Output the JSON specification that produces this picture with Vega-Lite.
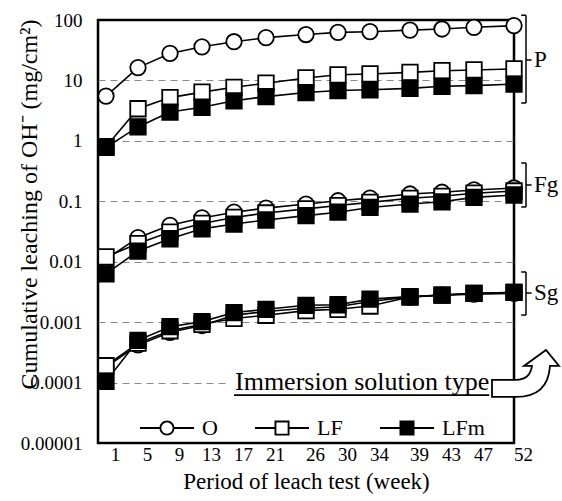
{
  "$schema": "https://vega.github.io/schema/vega-lite/v6.json",
  "width": 416,
  "height": 423,
  "autosize": "none",
  "padding": {"left": 98, "top": 20, "right": 48, "bottom": 58},
  "config": {
    "font": "Liberation Serif",
    "view": {"stroke": "black", "strokeWidth": 2.5},
    "axis": {"labelColor": "black", "titleColor": "black", "labelFont": "Liberation Serif", "titleFont": "Liberation Serif", "titleFontWeight": "normal"},
    "axisX": {"labelOverlap": false, "labelFlush": false, "labelBound": false, "labelSeparation": 0}
  },
  "datasets": {
    "main": [
      {"week": 1, "group": "P", "type": "O", "value": 5.5},
      {"week": 5, "group": "P", "type": "O", "value": 16.3},
      {"week": 9, "group": "P", "type": "O", "value": 28},
      {"week": 13, "group": "P", "type": "O", "value": 36},
      {"week": 17, "group": "P", "type": "O", "value": 43.7},
      {"week": 21, "group": "P", "type": "O", "value": 51},
      {"week": 26, "group": "P", "type": "O", "value": 57.5},
      {"week": 30, "group": "P", "type": "O", "value": 62.5},
      {"week": 34, "group": "P", "type": "O", "value": 64},
      {"week": 39, "group": "P", "type": "O", "value": 68},
      {"week": 43, "group": "P", "type": "O", "value": 71},
      {"week": 47, "group": "P", "type": "O", "value": 75.7},
      {"week": 52, "group": "P", "type": "O", "value": 80.5},
      {"week": 1, "group": "Fg", "type": "O", "value": 0.011},
      {"week": 5, "group": "Fg", "type": "O", "value": 0.025},
      {"week": 9, "group": "Fg", "type": "O", "value": 0.04},
      {"week": 13, "group": "Fg", "type": "O", "value": 0.053},
      {"week": 17, "group": "Fg", "type": "O", "value": 0.066},
      {"week": 21, "group": "Fg", "type": "O", "value": 0.077},
      {"week": 26, "group": "Fg", "type": "O", "value": 0.09},
      {"week": 30, "group": "Fg", "type": "O", "value": 0.102},
      {"week": 34, "group": "Fg", "type": "O", "value": 0.113},
      {"week": 39, "group": "Fg", "type": "O", "value": 0.132},
      {"week": 43, "group": "Fg", "type": "O", "value": 0.141},
      {"week": 47, "group": "Fg", "type": "O", "value": 0.154},
      {"week": 52, "group": "Fg", "type": "O", "value": 0.166},
      {"week": 1, "group": "Sg", "type": "O", "value": 0.00018},
      {"week": 5, "group": "Sg", "type": "O", "value": 0.00042},
      {"week": 9, "group": "Sg", "type": "O", "value": 0.00068},
      {"week": 13, "group": "Sg", "type": "O", "value": 0.00088},
      {"week": 17, "group": "Sg", "type": "O", "value": 0.0013},
      {"week": 21, "group": "Sg", "type": "O", "value": 0.0015},
      {"week": 26, "group": "Sg", "type": "O", "value": 0.0017},
      {"week": 30, "group": "Sg", "type": "O", "value": 0.0018},
      {"week": 34, "group": "Sg", "type": "O", "value": 0.0022},
      {"week": 39, "group": "Sg", "type": "O", "value": 0.0026},
      {"week": 43, "group": "Sg", "type": "O", "value": 0.0028},
      {"week": 47, "group": "Sg", "type": "O", "value": 0.0029},
      {"week": 52, "group": "Sg", "type": "O", "value": 0.003},
      {"week": 1, "group": "P", "type": "LF", "value": 0.8},
      {"week": 5, "group": "P", "type": "LF", "value": 3.4},
      {"week": 9, "group": "P", "type": "LF", "value": 5.2},
      {"week": 13, "group": "P", "type": "LF", "value": 6.4},
      {"week": 17, "group": "P", "type": "LF", "value": 7.7},
      {"week": 21, "group": "P", "type": "LF", "value": 9.0},
      {"week": 26, "group": "P", "type": "LF", "value": 11.0},
      {"week": 30, "group": "P", "type": "LF", "value": 12.4},
      {"week": 34, "group": "P", "type": "LF", "value": 12.8},
      {"week": 39, "group": "P", "type": "LF", "value": 13.6},
      {"week": 43, "group": "P", "type": "LF", "value": 14.5},
      {"week": 47, "group": "P", "type": "LF", "value": 14.9},
      {"week": 52, "group": "P", "type": "LF", "value": 15.5},
      {"week": 1, "group": "Fg", "type": "LF", "value": 0.012},
      {"week": 5, "group": "Fg", "type": "LF", "value": 0.02},
      {"week": 9, "group": "Fg", "type": "LF", "value": 0.031},
      {"week": 13, "group": "Fg", "type": "LF", "value": 0.043},
      {"week": 17, "group": "Fg", "type": "LF", "value": 0.054},
      {"week": 21, "group": "Fg", "type": "LF", "value": 0.064},
      {"week": 26, "group": "Fg", "type": "LF", "value": 0.075},
      {"week": 30, "group": "Fg", "type": "LF", "value": 0.085},
      {"week": 34, "group": "Fg", "type": "LF", "value": 0.096},
      {"week": 39, "group": "Fg", "type": "LF", "value": 0.112},
      {"week": 43, "group": "Fg", "type": "LF", "value": 0.121},
      {"week": 47, "group": "Fg", "type": "LF", "value": 0.136},
      {"week": 52, "group": "Fg", "type": "LF", "value": 0.148},
      {"week": 1, "group": "Sg", "type": "LF", "value": 0.00019},
      {"week": 5, "group": "Sg", "type": "LF", "value": 0.00045},
      {"week": 9, "group": "Sg", "type": "LF", "value": 0.00072},
      {"week": 13, "group": "Sg", "type": "LF", "value": 0.00092},
      {"week": 17, "group": "Sg", "type": "LF", "value": 0.00115},
      {"week": 21, "group": "Sg", "type": "LF", "value": 0.0013},
      {"week": 26, "group": "Sg", "type": "LF", "value": 0.00155},
      {"week": 30, "group": "Sg", "type": "LF", "value": 0.00163},
      {"week": 34, "group": "Sg", "type": "LF", "value": 0.00185},
      {"week": 39, "group": "Sg", "type": "LF", "value": 0.0026},
      {"week": 43, "group": "Sg", "type": "LF", "value": 0.0028},
      {"week": 47, "group": "Sg", "type": "LF", "value": 0.003},
      {"week": 52, "group": "Sg", "type": "LF", "value": 0.0031},
      {"week": 1, "group": "P", "type": "LFm", "value": 0.78},
      {"week": 5, "group": "P", "type": "LFm", "value": 1.7},
      {"week": 9, "group": "P", "type": "LFm", "value": 3.0},
      {"week": 13, "group": "P", "type": "LFm", "value": 3.6},
      {"week": 17, "group": "P", "type": "LFm", "value": 4.6},
      {"week": 21, "group": "P", "type": "LFm", "value": 5.4},
      {"week": 26, "group": "P", "type": "LFm", "value": 6.3},
      {"week": 30, "group": "P", "type": "LFm", "value": 6.8},
      {"week": 34, "group": "P", "type": "LFm", "value": 7.0},
      {"week": 39, "group": "P", "type": "LFm", "value": 7.4},
      {"week": 43, "group": "P", "type": "LFm", "value": 8.0},
      {"week": 47, "group": "P", "type": "LFm", "value": 8.2},
      {"week": 52, "group": "P", "type": "LFm", "value": 8.7},
      {"week": 1, "group": "Fg", "type": "LFm", "value": 0.0063},
      {"week": 5, "group": "Fg", "type": "LFm", "value": 0.015},
      {"week": 9, "group": "Fg", "type": "LFm", "value": 0.024},
      {"week": 13, "group": "Fg", "type": "LFm", "value": 0.035},
      {"week": 17, "group": "Fg", "type": "LFm", "value": 0.042},
      {"week": 21, "group": "Fg", "type": "LFm", "value": 0.049},
      {"week": 26, "group": "Fg", "type": "LFm", "value": 0.058},
      {"week": 30, "group": "Fg", "type": "LFm", "value": 0.066},
      {"week": 34, "group": "Fg", "type": "LFm", "value": 0.079},
      {"week": 39, "group": "Fg", "type": "LFm", "value": 0.09},
      {"week": 43, "group": "Fg", "type": "LFm", "value": 0.098},
      {"week": 47, "group": "Fg", "type": "LFm", "value": 0.116},
      {"week": 52, "group": "Fg", "type": "LFm", "value": 0.127},
      {"week": 1, "group": "Sg", "type": "LFm", "value": 0.000105},
      {"week": 5, "group": "Sg", "type": "LFm", "value": 0.0005},
      {"week": 9, "group": "Sg", "type": "LFm", "value": 0.00084},
      {"week": 13, "group": "Sg", "type": "LFm", "value": 0.00102},
      {"week": 17, "group": "Sg", "type": "LFm", "value": 0.00144},
      {"week": 21, "group": "Sg", "type": "LFm", "value": 0.00163},
      {"week": 26, "group": "Sg", "type": "LFm", "value": 0.0019},
      {"week": 30, "group": "Sg", "type": "LFm", "value": 0.00194},
      {"week": 34, "group": "Sg", "type": "LFm", "value": 0.0024},
      {"week": 39, "group": "Sg", "type": "LFm", "value": 0.00264},
      {"week": 43, "group": "Sg", "type": "LFm", "value": 0.0028},
      {"week": 47, "group": "Sg", "type": "LFm", "value": 0.003},
      {"week": 52, "group": "Sg", "type": "LFm", "value": 0.0031}
    ],
    "brackets": [
      {"label": "P", "lo": 4.23, "hi": 120, "mid": 21.8},
      {"label": "Fg", "lo": 0.0805, "hi": 0.43, "mid": 0.186},
      {"label": "Sg", "lo": 0.00131, "hi": 0.00676, "mid": 0.00303}
    ]
  },
  "data": {"name": "main"},
  "layer": [
    {
      "mark": {"type": "line", "color": "black", "strokeWidth": 1.6},
      "encoding": {
        "x": {"field": "week", "type": "quantitative", "title": "Period of leach test (week)",
              "scale": {"domain": [0, 52], "nice": false, "zero": false},
              "axis": {"values": [1, 5, 9, 13, 17, 21, 26, 30, 34, 39, 43, 47, 52], "tickCount": 30, "grid": false, "ticks": false, "domain": false,
                       "labelFontSize": 19, "labelOffset": 9, "labelPadding": 2, "labelOverlap": false, "labelSeparation": 0, "labelFlush": false, "labelBound": false,
                       "titleFontSize": 23, "titleBaseline": "alphabetic", "titleY": 45}},
        "y": {"field": "value", "type": "quantitative", "title": "Cumulative leaching of OH⁻ (mg/cm²)",
              "scale": {"type": "log", "domain": [0.00001, 100], "nice": false},
              "axis": {"values": [0.00001, 0.0001, 0.001, 0.01, 0.1, 1, 10, 100], "tickCount": 20, "format": ".5~f", "ticks": false, "domain": false,
                       "grid": true, "gridDash": [7, 5], "gridColor": "#888888", "gridWidth": 1.2,
                       "gridOpacity": {"condition": {"test": "datum.value > 50 || datum.value < 0.00002", "value": 0}, "value": 1},
                       "labelFontSize": 19, "labelPadding": 16,
                       "titleFontSize": 24, "titleX": -69, "titleY": 184, "titleBaseline": "middle", "titleAlign": "center", "titleAngle": 270}},
        "detail": [{"field": "group"}, {"field": "type"}]
      }
    },
    {
      "mark": {"type": "point", "filled": false, "size": 240, "stroke": "black", "strokeWidth": 1.8, "opacity": 1},
      "encoding": {
        "x": {"field": "week", "type": "quantitative", "title": "Period of leach test (week)"},
        "y": {"field": "value", "type": "quantitative", "title": "Cumulative leaching of OH⁻ (mg/cm²)"},
        "shape": {"field": "type", "type": "nominal", "scale": {"domain": ["O", "LF", "LFm"], "range": ["circle", "square", "square"]}, "legend": null},
        "fill": {"field": "type", "type": "nominal", "scale": {"domain": ["O", "LF", "LFm"], "range": ["white", "white", "black"]}, "legend": null}
      }
    },
    {
      "transform": [{"filter": "false"}],
      "mark": {"type": "point", "filled": true, "size": 225, "color": "black"},
      "encoding": {
        "x": {"field": "week", "type": "quantitative", "title": "Period of leach test (week)"},
        "y": {"field": "value", "type": "quantitative", "title": "Cumulative leaching of OH⁻ (mg/cm²)"},
        "shape": {"field": "type", "type": "nominal",
                  "scale": {"domain": ["O", "LF", "LFm"], "range": [
                    "M-3.6,-0.13L-1,-0.13L-1,0.13L-3.6,0.13Z M1,-0.13L3.6,-0.13L3.6,0.13L1,0.13Z M-1,0A1,1,0,1,1,1,0A1,1,0,1,1,-1,0Z M-0.75,0A0.75,0.75,0,1,0,0.75,0A0.75,0.75,0,1,0,-0.75,0Z",
                    "M-3.6,-0.13L-1,-0.13L-1,0.13L-3.6,0.13Z M1,-0.13L3.6,-0.13L3.6,0.13L1,0.13Z M-1,-1L1,-1L1,1L-1,1Z M-0.75,-0.75L-0.75,0.75L0.75,0.75L0.75,-0.75Z",
                    "M-3.6,-0.13L-1,-0.13L-1,0.13L-3.6,0.13Z M1,-0.13L3.6,-0.13L3.6,0.13L1,0.13Z M-1,-1L1,-1L1,1L-1,1Z"]},
                  "legend": {"orient": "none", "legendX": 58, "legendY": 397, "direction": "horizontal", "columns": 3, "title": null,
                             "labelFont": "Liberation Serif", "labelFontSize": 22, "labelColor": "black", "labelOffset": 24,
                             "columnPadding": 37, "symbolSize": 225, "symbolFillColor": "black", "symbolStrokeWidth": 0, "symbolOpacity": 1, "padding": 0}}
      }
    },
    {
      "data": {"name": "brackets"},
      "mark": {"type": "rule", "color": "black", "strokeWidth": 1.5},
      "encoding": {"x": {"datum": 53.5}, "y": {"field": "lo", "type": "quantitative", "title": "Cumulative leaching of OH⁻ (mg/cm²)"}, "y2": {"field": "hi"}}
    },
    {
      "data": {"name": "brackets"},
      "mark": {"type": "rule", "color": "black", "strokeWidth": 1.5},
      "encoding": {"x": {"datum": 52.9}, "x2": {"datum": 53.5}, "y": {"field": "hi", "type": "quantitative", "title": "Cumulative leaching of OH⁻ (mg/cm²)"}}
    },
    {
      "data": {"name": "brackets"},
      "mark": {"type": "rule", "color": "black", "strokeWidth": 1.5},
      "encoding": {"x": {"datum": 52.9}, "x2": {"datum": 53.5}, "y": {"field": "lo", "type": "quantitative", "title": "Cumulative leaching of OH⁻ (mg/cm²)"}}
    },
    {
      "data": {"name": "brackets"},
      "mark": {"type": "rule", "color": "black", "strokeWidth": 1.5},
      "encoding": {"x": {"datum": 53.5}, "x2": {"datum": 54.2}, "y": {"field": "mid", "type": "quantitative", "title": "Cumulative leaching of OH⁻ (mg/cm²)"}}
    },
    {
      "data": {"name": "brackets"},
      "mark": {"type": "text", "font": "Liberation Serif", "fontSize": 23, "align": "left", "baseline": "middle", "color": "black"},
      "encoding": {"x": {"datum": 54.5}, "y": {"field": "mid", "type": "quantitative", "title": "Cumulative leaching of OH⁻ (mg/cm²)"}, "text": {"field": "label"}}
    },
    {
      "data": {"values": [{}]},
      "mark": {"type": "rect", "fill": "white"},
      "encoding": {"x": {"datum": 16.2}, "x2": {"datum": 49}, "y": {"datum": 0.000145}, "y2": {"datum": 0.000072}}
    },
    {
      "data": {"values": [{}]},
      "mark": {"type": "text", "font": "Liberation Serif", "fontSize": 26, "align": "right", "baseline": "alphabetic", "color": "black", "text": "Immersion solution type"},
      "encoding": {"x": {"datum": 48.9}, "y": {"datum": 0.000076}}
    },
    {
      "data": {"values": [{}]},
      "mark": {"type": "rule", "color": "black", "strokeWidth": 1.8},
      "encoding": {"x": {"datum": 17}, "x2": {"datum": 48.9}, "y": {"datum": 0.000062}}
    },
    {
      "data": {"values": [{}]},
      "mark": {"type": "point", "filled": true, "fill": "white", "stroke": "black", "strokeWidth": 1.8, "opacity": 1, "size": 4624,
               "shape": "M-1,0.176L-0.294,0.176Q0.118,0.176,0.176,-0.235L-0.059,-0.235L0.588,-0.706L0.971,-0.235L0.706,-0.235Q0.647,0.676,-0.294,0.676L-1,0.676Z"},
      "encoding": {"x": {"datum": 53.5}, "y": {"datum": 0.000139}}
    }
  ],
  "resolve": {"scale": {"shape": "independent"}, "legend": {"shape": "independent"}}
}
